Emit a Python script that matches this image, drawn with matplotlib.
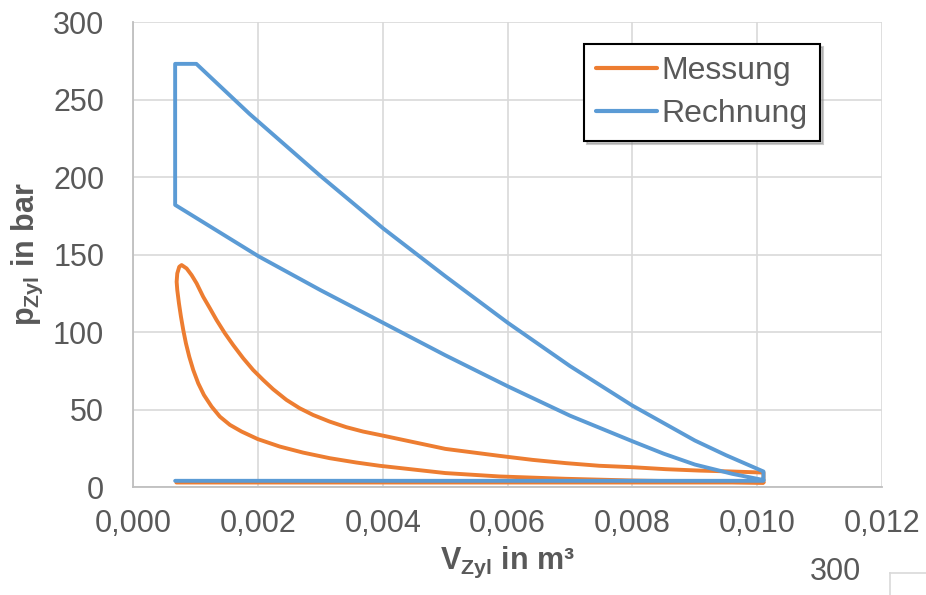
import matplotlib
matplotlib.use("Agg")
import matplotlib.pyplot as plt
from matplotlib.lines import Line2D
from matplotlib.ticker import FuncFormatter

plt.rcParams["font.family"] = ["Liberation Sans", "DejaVu Sans"]
plt.rcParams["mathtext.fontset"] = "custom"
plt.rcParams["mathtext.rm"] = "Liberation Sans"
plt.rcParams["mathtext.bf"] = "Liberation Sans:bold"

# Messung: compression (right to left), peak, expansion, low-pressure line
mess_v = [0.0101, 0.00907, 0.008, 0.00693, 0.00587, 0.005, 0.003947, 0.003574,
          0.003147, 0.00272, 0.002347, 0.001995, 0.001734, 0.001547, 0.001387,
          0.001254, 0.001131, 0.00104, 0.00096, 0.000896, 0.000843, 0.0008,
          0.000763, 0.000731, 0.000704, 0.000694, 0.000704, 0.000736, 0.000774,
          0.000854, 0.000934, 0.001014, 0.00112, 0.001227, 0.001334, 0.001467,
          0.0016, 0.00176, 0.00192, 0.00208, 0.00224, 0.002454, 0.002667,
          0.00288, 0.003147, 0.003414, 0.00368, 0.003947, 0.005, 0.005867,
          0.0064, 0.006934, 0.007467, 0.00799, 0.008534, 0.00907, 0.0096,
          0.0101, 0.0101, 0.00069]
mess_p = [2.9, 3.5, 4.2, 5.3, 6.8, 9.0, 13.7, 15.8,
          18.6, 22.2, 26.1, 30.9, 35.8, 40.1, 45.4,
          51.9, 59.4, 66.9, 75.5, 84.1, 92.7, 101.3,
          109.9, 118.5, 127.1, 132.4, 137.8, 142.1, 143.2,
          141.0, 136.7, 131.4, 122.7, 115.3, 107.7, 99.2,
          91.6, 83.1, 75.5, 69.1, 63.1, 56.2, 50.8,
          46.5, 42.2, 38.6, 35.8, 33.6, 24.6, 20.1,
          17.5, 15.4, 13.7, 12.8, 11.5, 10.6, 10.0,
          9.3, 2.9, 2.9]

# Rechnung: compression, constant volume, constant pressure, expansion, exhaust
rech_v = [0.0101, 0.0096, 0.009, 0.0085, 0.008, 0.007, 0.006, 0.005, 0.004,
          0.003, 0.002, 0.00067,
          0.00067, 0.00101, 0.00186, 0.00299, 0.004, 0.005, 0.006,
          0.007, 0.008, 0.009, 0.0095, 0.0101, 0.0101, 0.00067]
rech_p = [4.5, 8.5, 14.5, 21.5, 29.5, 46.0, 65.0, 85.0, 106.0,
          127.0, 149.0, 182.0,
          273.0, 273.0, 240.8, 201.0, 167.0, 136.0, 106.0,
          78.0, 52.5, 30.0, 20.5, 10.0, 4.0, 4.0]

xticks = [0.0, 0.002, 0.004, 0.006, 0.008, 0.010, 0.012]
yticks = [0, 50, 100, 150, 200, 250, 300]

text_col = "#595959"

fig = plt.figure(figsize=(9.26, 5.95), dpi=100)
ax = fig.add_axes([0.1440, 0.1815, 0.8085, 0.7815])

ax.plot(mess_v, mess_p, color="#ED7D31", lw=2.8, label="Messung",
        solid_joinstyle="round", solid_capstyle="round", zorder=3)
ax.plot(rech_v, rech_p, color="#5B9BD5", lw=2.8, label="Rechnung",
        solid_joinstyle="round", solid_capstyle="round", zorder=4)

ax.set_xlim(0, 0.012)
ax.set_ylim(0, 300)
ax.set_xticks(xticks)
ax.set_yticks(yticks)
ax.xaxis.set_major_formatter(FuncFormatter(lambda v, _: f"{v:.3f}".replace(".", ",")))
ax.tick_params(length=0, labelsize=22, labelcolor=text_col)
ax.tick_params(axis="x", pad=16)
ax.tick_params(axis="y", pad=21)
ax.grid(color="#D9D9D9", lw=1.2)
ax.set_axisbelow(True)
for s in ["top", "right"]:
    ax.spines[s].set_visible(False)
for s in ["left", "bottom"]:
    ax.spines[s].set_color("#BFBFBF")
    ax.spines[s].set_linewidth(1.3)

ax.set_xlabel(r"$\mathbf{V_{Zyl}}$ in m³", fontsize=22, fontweight="bold",
              color=text_col, labelpad=4)
ax.set_ylabel(r"$\mathbf{p_{Zyl}}$ in bar", fontsize=22, fontweight="bold",
              color=text_col, labelpad=6)

leg = ax.legend(loc="upper right", bbox_to_anchor=(820 / 926, 1 - 44 / 595),
                bbox_transform=fig.transFigure, borderaxespad=0,
                fontsize=23, fancybox=False, shadow={"color": "0.55", "alpha": 0.45},
                handlelength=1.9, handletextpad=0.15, borderpad=0.38,
                labelspacing=0.4, framealpha=1)
leg.get_frame().set_edgecolor("black")
leg.get_frame().set_linewidth(1.5)
for t in leg.get_texts():
    t.set_color(text_col)
for h in leg.get_lines():
    h.set_linewidth(3.0)

# stray label and box fragment in the lower right corner
fig.text(835 / 926, 1 - 572 / 595, "300", fontsize=22, color=text_col,
         ha="center", va="center")
fig.add_artist(Line2D([890 / 926, 1.0], [1 - 573 / 595, 1 - 573 / 595],
                      color="#D9D9D9", lw=1.2))
fig.add_artist(Line2D([890 / 926, 890 / 926], [1 - 573 / 595, 0.0],
                      color="#D9D9D9", lw=1.2))

fig.savefig("out.png", dpi=100)
